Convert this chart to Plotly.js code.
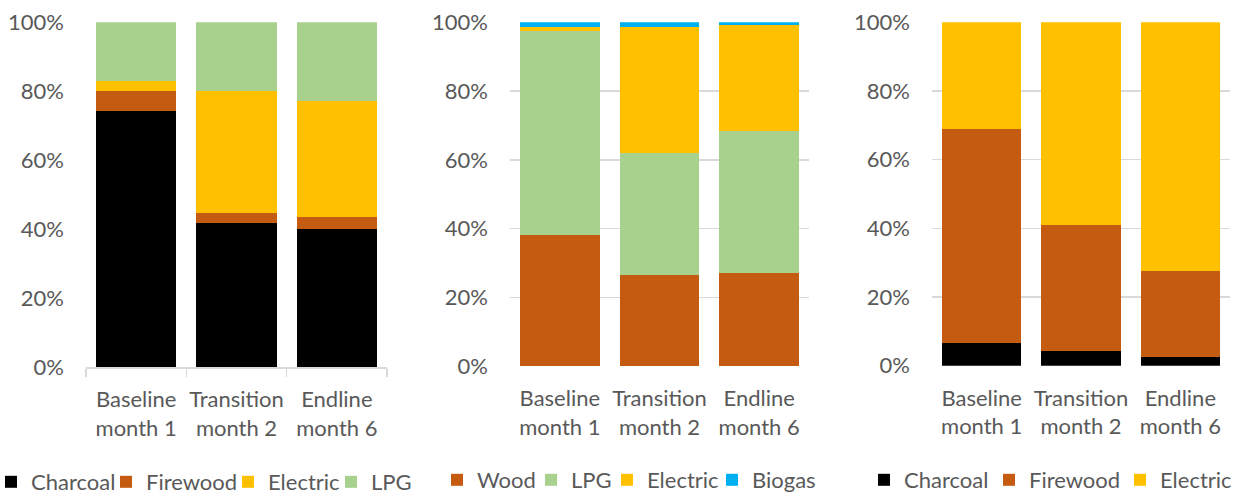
<!DOCTYPE html>
<html>
<head>
<meta charset="utf-8">
<script src="https://cdn.plot.ly/plotly-3.0.1.min.js"></script>
<style>html,body{margin:0;padding:0;background:#fff;} #chart{width:1239px;height:495px;}</style>
</head>
<body>
<div id="chart"></div>
<script>
const categories = ['Baseline<br>month 1', 'Transition<br>month 2', 'Endline<br>month 6'];

// Panel 1 (shares)
const p1Charcoal = [0.742, 0.417, 0.400];
const p1Firewood = [0.058, 0.029, 0.035];
const p1Electric = [0.029, 0.354, 0.336];
const p1LPG      = [0.171, 0.200, 0.229];

// Panel 2
const p2Wood     = [0.382, 0.265, 0.271];
const p2LPG      = [0.592, 0.355, 0.413];
const p2Electric = [0.012, 0.366, 0.308];
const p2Biogas   = [0.014, 0.014, 0.008];

// Panel 3
const p3Charcoal = [0.067, 0.043, 0.025];
const p3Firewood = [0.622, 0.367, 0.251];
const p3Electric = [0.311, 0.590, 0.724];

const yTicks = [0, 0.2, 0.4, 0.6, 0.8, 1.0];

const C = {charcoal:'#000000', firewood:'#C55A11', electric:'#FFC000', lpg:'#A9D18E', biogas:'#00B0F0'};
const W = 1239, H = 495;
const TXT = '#595959';
const FONT = 'Lato, "Open Sans", sans-serif';

function px(x){ return x / W; }
function py(y){ return 1 - y / H; }

const legFont = {family: FONT, size: 22, color: TXT};
const layout = {
  width: W, height: H,
  margin: {l:0, r:0, t:0, b:0, autoexpand:false},
  paper_bgcolor:'#fff', plot_bgcolor:'rgba(0,0,0,0)',
  barmode:'stack', bargap:0.2,
  font:{family: FONT, color: TXT},
  showlegend: true
};

let legCount = 0;
// one legend box per entry, so each entry sits where the reference shows it
function bar(name, y, color, ax, legX, legY) {
  legCount += 1;
  const key = legCount === 1 ? 'legend' : 'legend' + legCount;
  layout[key] = {orientation:'h', x:px(legX - 16), y:py(legY), xanchor:'left', yanchor:'middle',
                 font:legFont, bgcolor:'rgba(0,0,0,0)', borderwidth:0};
  return {type:'bar', name:name, x:categories, y:y, xaxis:'x'+ax, yaxis:'y'+ax,
          marker:{color:color, line:{width:0}}, legend:key, hoverinfo:'skip'};
}

const data = [
  bar('Charcoal', p1Charcoal, C.charcoal, '', 7, 482),
  bar('Firewood', p1Firewood, C.firewood, '', 122, 482),
  bar('Electric', p1Electric, C.electric, '', 244, 482),
  bar('LPG', p1LPG, C.lpg, '', 347, 482),
  bar('Wood', p2Wood, C.firewood, '2', 453, 480),
  bar('LPG', p2LPG, C.lpg, '2', 547, 480),
  bar('Electric', p2Electric, C.electric, '2', 623, 480),
  bar('Biogas', p2Biogas, C.biogas, '2', 728, 480),
  bar('Charcoal', p3Charcoal, C.charcoal, '3', 880, 480),
  bar('Firewood', p3Firewood, C.firewood, '3', 1005, 480),
  bar('Electric', p3Electric, C.electric, '3', 1136, 480)
];

const tickFont = {family: FONT, size: 22, color: TXT};

function yax(anchor, y0, y1, grid) {
  return {anchor: anchor, domain:[py(y0), py(y1)], range:[0,1], tickvals:yTicks, tickformat:'.0%',
          showgrid:grid, gridcolor:'#D9D9D9', gridwidth:1.5, zeroline:false, showline:false,
          ticks:'', ticklabelstandoff:21, tickfont:tickFont, fixedrange:true};
}
function xax(anchor, x0, x1, first) {
  const a = {anchor: anchor, domain:[px(x0), px(x1)], type:'category', range:[-0.5, 2.5],
          showgrid:false, zeroline:false, tickfont:tickFont, tickangle:0, fixedrange:true};
  if (first) {
    Object.assign(a, {showline:true, linecolor:'#D9D9D9', linewidth:1.5, ticks:'outside',
      tickson:'boundaries', ticklen:8, tickcolor:'#D9D9D9', tickwidth:1.5, ticklabelstandoff:12});
  } else {
    Object.assign(a, {showline:false, ticks:'', ticklabelstandoff:17});
  }
  return a;
}

Object.assign(layout, {
  xaxis: xax('y', 86, 387, true),
  yaxis: yax('x', 367, 22.3, false),
  xaxis2: xax('y2', 510, 809, false),
  yaxis2: yax('x2', 366.3, 22.3, true),
  xaxis3: xax('y3', 932, 1230, false),
  yaxis3: yax('x3', 365.7, 22.3, true)
});

Plotly.newPlot('chart', data, layout, {displayModeBar:false, staticPlot:true});
</script>
</body>
</html>
